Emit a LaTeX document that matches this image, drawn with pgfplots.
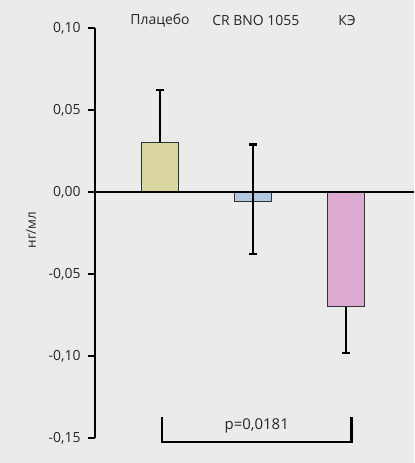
\documentclass[border=0pt]{standalone}
\usepackage{pgfplots}
\pgfplotsset{compat=1.18}
\usepackage{fontspec}
\setmainfont{Open Sans}
\definecolor{bg}{HTML}{EBEBEB}
\definecolor{plac}{HTML}{DAD6A2}
\definecolor{crb}{HTML}{B2C8E0}
\definecolor{ke}{HTML}{DCAAD0}
\begin{document}
\begin{tikzpicture}[x=1bp,y=1bp]
\fill[bg] (0,0) rectangle (414,463);
\useasboundingbox (0,0) rectangle (414,463);
\begin{axis}[
 at={(95bp,25bp)}, anchor=south west,
 scale only axis, width=319bp, height=410bp,
 xmin=-0.699, xmax=2.731, ymin=-0.15, ymax=0.10,
 axis x line=middle, axis y line=left,
 axis line style={-, line width=2.3bp, black},
 axis on top,
 xtick=\empty,
 ytick={-0.15,-0.10,-0.05,0,0.05,0.10},
 yticklabels={{-0,15},{-0,10},{-0,05},{0,00},{0,05},{0,10}},
 hide obscured y ticks=false,
 ytick style={line width=2.3bp, black},
 tick align=outside, major tick length=7bp,
 yticklabel style={font=\fontsize{14}{16}\selectfont, text=black!85, xshift=-4bp},
 clip=false,
 ybar, bar width=37bp, bar shift=0pt,
]
\addplot[fill=plac, draw=black!80, line width=0.9bp,
  error bars/.cd, y dir=plus, y explicit,
  error bar style={line width=2.2bp, black},
  error mark options={rotate=90, mark size=3.8bp, line width=2.2bp, black}]
  coordinates {(0,0.030) +- (0,0.032)};
\addplot[fill=crb, draw=black!80, line width=0.9bp,
  error bars/.cd, y dir=both, y explicit,
  error bar style={line width=2.2bp, black},
  error mark options={rotate=90, mark size=3.8bp, line width=2.2bp, black}]
  coordinates {(1,-0.006) += (0,0.035) -= (0,0.032)};
\addplot[fill=ke, draw=black!80, line width=0.9bp,
  error bars/.cd, y dir=minus, y explicit,
  error bar style={line width=2.2bp, black},
  error mark options={rotate=90, mark size=3.8bp, line width=2.2bp, black}]
  coordinates {(2,-0.070) +- (0,0.028)};
\node[font=\fontsize{14}{16}\selectfont, text=black!85] at (axis cs:0,0.1043) {Плацебо};
\node[font=\fontsize{14}{16}\selectfont, text=black!85] at (axis cs:1.03,0.1043) {CR BNO 1055};
\node[font=\fontsize{14}{16}\selectfont, text=black!85] at (axis cs:2.01,0.1043) {КЭ};
\draw[line width=2.3bp, black] (axis cs:0.02,-0.137) |- (axis cs:2.06,-0.1524) -- (axis cs:2.06,-0.137);
\node[font=\fontsize{15}{17}\selectfont, text=black!85] at (axis cs:1.04,-0.1425) {p=0,0181};
\end{axis}
\node[rotate=90, font=\fontsize{13.5}{15}\selectfont, text=black!85] at (31,233) {нг/мл};
\end{tikzpicture}
\end{document}
